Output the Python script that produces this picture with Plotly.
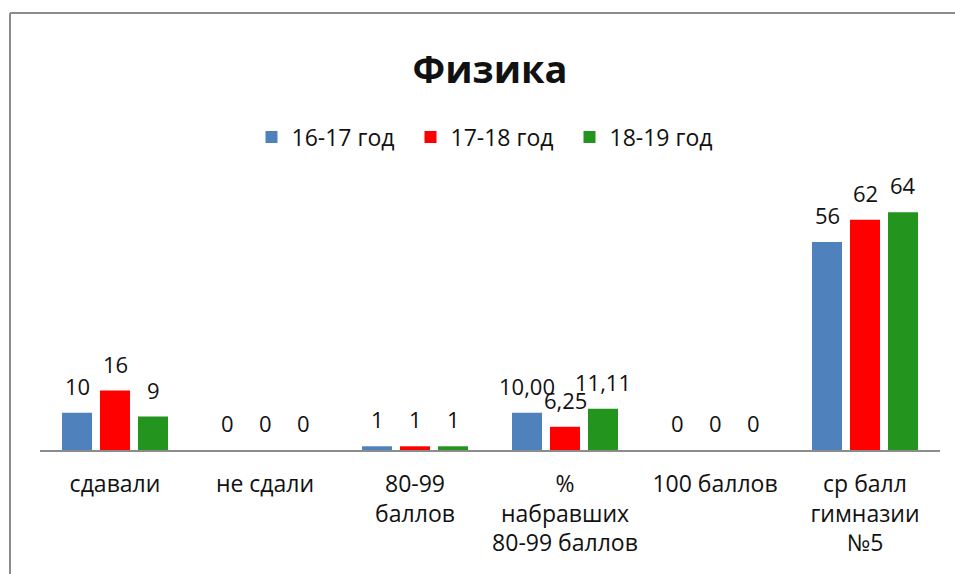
"""Физика: results by year, grouped bars."""

import plotly.graph_objects as go

categories = [
    "сдавали",
    "не сдали",
    "80-99<br>баллов",
    "%<br>набравших<br>80-99 баллов",
    "100 баллов",
    "ср балл<br>гимназии<br>№5",
]
series_names = ["16-17 год", "17-18 год", "18-19 год"]
values_16_17 = [10, 0, 1, 10.00, 0, 56]
values_17_18 = [16, 0, 1, 6.25, 0, 62]
values_18_19 = [9, 0, 1, 11.11, 0, 64]
labels_16_17 = ["10", "0", "1", "10,00", "0", "56"]
labels_17_18 = ["16", "0", "1", "6,25", "0", "62"]
labels_18_19 = ["9", "0", "1", "11,11", "0", "64"]

COLORS = ["#4F81BD", "#FF0000", "#23941E"]
FONT = "Open Sans"
W, H = 955, 574
SLOT_SHIFT = [-38, 0, 38]  # pixel offset of each bar inside its group

fig = go.Figure()
for name, vals, labels, color, dx in zip(
    series_names,
    [values_16_17, values_17_18, values_18_19],
    [labels_16_17, labels_17_18, labels_18_19],
    COLORS,
    SLOT_SHIFT,
):
    fig.add_trace(go.Bar(
        x=categories, y=vals, name=name,
        marker=dict(color=color, line=dict(width=0)),
        hovertemplate="%{x}<br>" + name + ": %{y}<extra></extra>",
    ))
    # data labels sit a bit higher above the bars, like in Excel
    for cat, v, lab in zip(categories, vals, labels):
        fig.add_annotation(
            x=cat, y=v, text=lab, showarrow=False,
            xshift=dx, yshift=27, yanchor="middle",
            font=dict(size=22, color="#111111", family=FONT),
        )

fig.update_layout(
    width=W, height=H,
    margin=dict(l=40, r=W - 940, t=190, b=H - 450),
    paper_bgcolor="white", plot_bgcolor="white",
    barmode="group", bargap=0.24, bargroupgap=0.21,
    font=dict(family=FONT, size=22, color="#111111"),
    title=dict(
        text="<b>Физика</b>", x=0.5, xref="paper", xanchor="center",
        y=1 - 70 / H, yref="container", yanchor="middle",
        font=dict(size=38, family=FONT, color="#111111"),
    ),
    legend=dict(
        orientation="h", x=0.5, xanchor="center",
        y=1 + (190 - 137) / 260, yanchor="middle",
        font=dict(size=23, family=FONT), itemwidth=30,
        entrywidth=114,
    ),
    showlegend=True,
)
fig.update_xaxes(
    showline=True, linecolor="#8C8C8C", linewidth=2,
    showgrid=False, ticks="", ticklabelstandoff=12,
    tickfont=dict(size=23, family=FONT),
)
fig.update_yaxes(
    range=[0, 70], visible=False, showgrid=False, zeroline=False,
)
# chart frame: only the top and left edges show, the rest is cut by the page
frame_x0 = (10 - 40) / 900
frame_top = 1 + (190 - 13) / 260
fig.add_shape(
    type="line", xref="paper", yref="paper",
    x0=frame_x0, x1=frame_x0, y0=-1.0, y1=frame_top,
    line=dict(color="#8C8C8C", width=2), layer="below",
)
fig.add_shape(
    type="line", xref="paper", yref="paper",
    x0=frame_x0, x1=1.6, y0=frame_top, y1=frame_top,
    line=dict(color="#8C8C8C", width=2), layer="below",
)

# the page has no body margin, so the figure fills the window exactly
fig.write_html(
    "out.html",
    config={"displayModeBar": False},
    post_script="document.body.style.margin='0';document.body.style.overflow='hidden';",
)
